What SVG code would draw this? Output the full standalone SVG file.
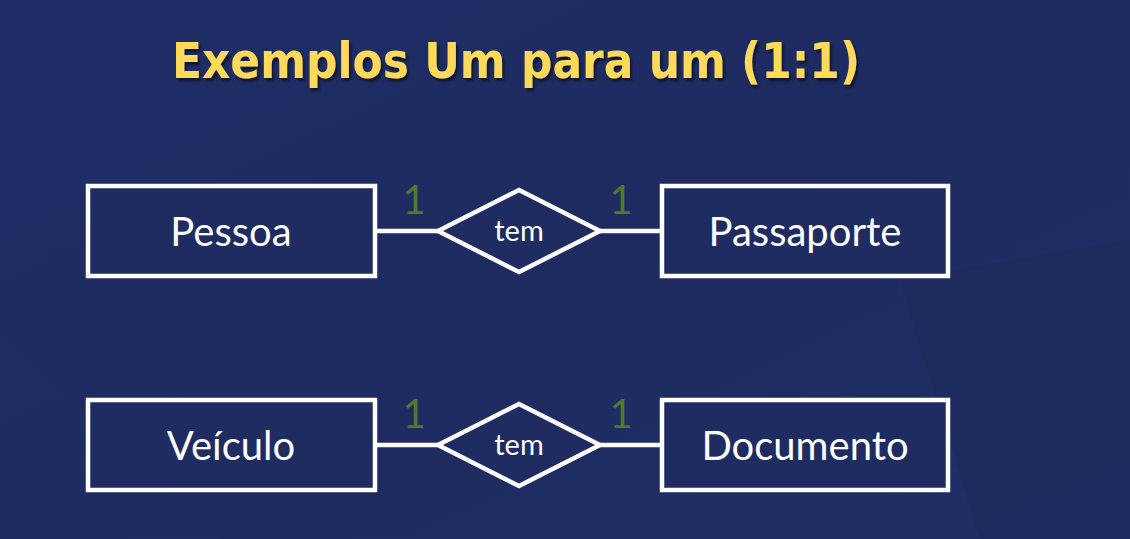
<svg xmlns="http://www.w3.org/2000/svg" width="1130" height="539" viewBox="0 0 1130 539">
<defs>
<linearGradient id="bg" x1="0" y1="0" x2="1" y2="1">
<stop offset="0" stop-color="#1f2e68"/>
<stop offset="0.5" stop-color="#1d2b60"/>
<stop offset="1" stop-color="#1f2f66"/>
</linearGradient>
<filter id="sh" x="-5%" y="-20%" width="110%" height="140%">
<feDropShadow dx="2" dy="3" stdDeviation="1.5" flood-color="#000" flood-opacity="0.55"/>
</filter>
</defs>
<style>
.ent{fill:#1f2c62;stroke:#fff;stroke-width:4.5}
.rel{fill:#1f2c62;stroke:#fff;stroke-width:4.5;stroke-linejoin:miter}
.lbl{font-family:Lato,"Open Sans",sans-serif;fill:#fff;text-anchor:middle;font-size:40px}
.rl{font-family:Lato,"Open Sans",sans-serif;fill:#fff;text-anchor:middle;font-size:29px}
.card{font-family:Lato,"Open Sans",sans-serif;fill:#4f7a2c;text-anchor:middle;font-size:40px}
.con{stroke:#fff;stroke-width:4.5;fill:none}
</style>
<rect width="1130" height="539" fill="url(#bg)"/>
<path d="M0 330 L220 539 L0 539 Z" fill="#1e2d64" opacity="0.5"/>
<path d="M900 280 L1130 240 L1130 539 L980 539 Z" fill="#1c295a" opacity="0.5"/>
<text x="516" y="78" font-family="'DejaVu Sans',Verdana,sans-serif" font-weight="bold" font-size="49" fill="#ffd95a" text-anchor="middle" textLength="688" lengthAdjust="spacingAndGlyphs" filter="url(#sh)">Exemplos Um para um (1:1)</text>
<g id="connectors">
<line class="con" x1="375" y1="231" x2="438" y2="231"/>
<line class="con" x1="600" y1="231" x2="662" y2="231"/>
<line class="con" x1="375" y1="445" x2="438" y2="445"/>
<line class="con" x1="600" y1="445" x2="662" y2="445"/>
<text class="card" x="414" y="214">1</text>
<text class="card" x="621" y="214">1</text>
<text class="card" x="414" y="428">1</text>
<text class="card" x="621" y="428">1</text>
</g>
<g id="pessoa">
<rect class="ent" x="88" y="186" width="287" height="90"/>
<text class="lbl" x="231" y="246">Pessoa</text>
</g>
<g id="tem1">
<polygon class="rel" points="438,231 519,190 600,231 519,272"/>
<text class="rl" x="519" y="241">tem</text>
</g>
<g id="passaporte">
<rect class="ent" x="662" y="186" width="286" height="90"/>
<text class="lbl" x="805" y="246">Passaporte</text>
</g>
<g id="veiculo">
<rect class="ent" x="88" y="400" width="287" height="90"/>
<text class="lbl" x="231" y="460">Veículo</text>
</g>
<g id="tem2">
<polygon class="rel" points="438,445 519,404 600,445 519,486"/>
<text class="rl" x="519" y="455">tem</text>
</g>
<g id="documento">
<rect class="ent" x="662" y="400" width="286" height="90"/>
<text class="lbl" x="805" y="460">Documento</text>
</g>
</svg>
